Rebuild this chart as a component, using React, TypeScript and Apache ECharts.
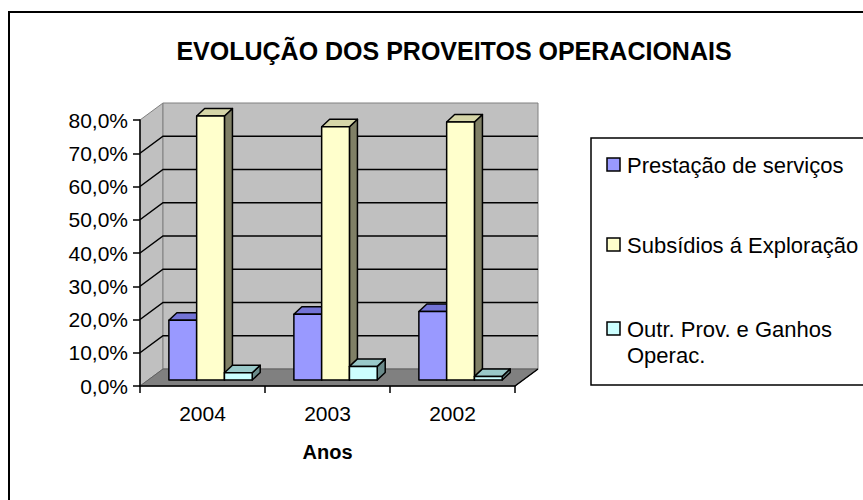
import React, { useEffect, useRef } from "react";
import * as echarts from "echarts";

const categories = ["2004", "2003", "2002"];
const seriesNames = ["Prestação de serviços", "Subsídios á Exploração", "Outr. Prov. e Ganhos Operac."];
const legendLabels = ["Prestação de serviços", "Subsídios á Exploração", "Outr. Prov. e Ganhos\nOperac."];
const prestacao = [18.0, 19.8, 20.6];
const subsidios = [79.4, 76.2, 77.6];
const outros = [2.2, 4.1, 1.1];
const yTicks = [0, 10, 20, 30, 40, 50, 60, 70, 80];

const FONT = "'Liberation Sans', Arial, Helvetica, sans-serif";
const DX = 23;
const DY = -17;
const BAR_FRONT = 0.35;
const BX = 8;
const BY = -7.5;

const palette = [
  { front: "#9999FF", top: "#7373D6", side: "#5C5CA8" },
  { front: "#FFFFCC", top: "#D6D6A8", side: "#808066" },
  { front: "#CCFFFF", top: "#99C9C9", side: "#6A8A8A" },
];

const strokeStyle = { stroke: "#000", lineWidth: 1.5, lineJoin: "round" };

function makeBarRender(s: number) {
  return (params: any, api: any) => {
    const i = api.value(0);
    const v = api.value(1);
    const base = api.coord([i, 0]);
    const top = api.coord([i, v]);
    const cw = api.size([1, 0])[0];
    const w = cw / 4.5;
    const ox = DX * BAR_FRONT;
    const oy = DY * BAR_FRONT;
    const xl = base[0] - 1.5 * w + s * w + ox;
    const xr = xl + w;
    const yb = base[1] + oy;
    const yt = top[1] + oy;
    const c = palette[s];
    return {
      type: "group",
      children: [
        {
          type: "polygon",
          shape: { points: [[xr, yt], [xr + BX, yt + BY], [xr + BX, yb + BY], [xr, yb]] },
          style: { fill: c.side, ...strokeStyle },
        },
        {
          type: "polygon",
          shape: { points: [[xl, yt], [xr, yt], [xr + BX, yt + BY], [xl + BX, yt + BY]] },
          style: { fill: c.top, ...strokeStyle },
        },
        {
          type: "rect",
          shape: { x: xl, y: yt, width: w, height: yb - yt },
          style: { fill: c.front, ...strokeStyle },
        },
      ],
    };
  };
}

function renderWalls(params: any, api: any) {
  const cs = params.coordSys;
  const x = cs.x;
  const y = cs.y;
  const w = cs.width;
  const h = cs.height;
  const children: any[] = [
    {
      type: "polygon",
      shape: { points: [[x, y], [x + DX, y + DY], [x + DX, y + h + DY], [x, y + h]] },
      style: { fill: "#C0C0C0", stroke: "#808080", lineWidth: 1 },
    },
    {
      type: "rect",
      shape: { x: x + DX, y: y + DY, width: w, height: h },
      style: { fill: "#C0C0C0", stroke: "#808080", lineWidth: 1 },
    },
    {
      type: "polygon",
      shape: { points: [[x, y + h], [x + w, y + h], [x + w + DX, y + h + DY], [x + DX, y + h + DY]] },
      style: { fill: "#808080", stroke: "#606060", lineWidth: 1 },
    },
    {
      type: "line",
      shape: { x1: x + w, y1: y + h, x2: x + w + DX, y2: y + h + DY },
      style: { stroke: "#000", lineWidth: 1.5 },
    },
  ];
  yTicks.forEach((t) => {
    if (t === yTicks[0] || t === yTicks[yTicks.length - 1]) return;
    const yy = api.coord([0, t])[1];
    children.push({
      type: "polyline",
      shape: { points: [[x, yy], [x + DX, yy + DY], [x + w + DX, yy + DY]] },
      style: { stroke: "#000", lineWidth: 1.5, fill: "none" },
    });
  });
  return { type: "group", children };
}

export default function App() {
  const ref = useRef<HTMLDivElement>(null);
  useEffect(() => {
    if (!ref.current) return;
    const chart = echarts.init(ref.current, null, { renderer: "svg" });
    const seriesData = [prestacao, subsidios, outros];
    const legendRows = [165, 245, 329];
    const legendGraphics: any[] = [];
    legendLabels.forEach((lbl, k) => {
      legendGraphics.push({
        type: "rect",
        shape: { x: 607, y: legendRows[k] - 7, width: 13, height: 13 },
        style: { fill: palette[k].front, stroke: "#000", lineWidth: 1.5 },
      });
      legendGraphics.push({
        type: "text",
        x: 627,
        y: legendRows[k] - 13,
        style: {
          text: lbl,
          font: `22px ${FONT}`,
          fill: "#000",
          lineHeight: 26,
          verticalAlign: "top",
          align: "left",
        },
      });
    });

    chart.setOption({
      animation: false,
      backgroundColor: "#fff",
      title: {
        text: "EVOLUÇÃO DOS PROVEITOS OPERACIONAIS",
        left: 449,
        top: 33,
        textAlign: "center",
        textStyle: { fontSize: 25, fontWeight: "bold", fontFamily: FONT, color: "#000" },
      },
      grid: { left: 140, right: 348, top: 120, bottom: 114 },
      xAxis: {
        type: "category",
        data: categories,
        boundaryGap: true,
        axisLine: { show: true, lineStyle: { color: "#000", width: 1.5 } },
        axisTick: { show: true, length: 7, lineStyle: { color: "#000", width: 1.5 } },
        axisLabel: { margin: 17, fontSize: 21, fontFamily: FONT, color: "#000" },
        name: "Anos",
        nameLocation: "middle",
        nameGap: 56,
        nameTextStyle: { fontSize: 20, fontWeight: "bold", fontFamily: FONT, color: "#000" },
        splitLine: { show: false },
      },
      yAxis: {
        type: "value",
        min: 0,
        max: 80,
        interval: 10,
        axisLine: { show: true, lineStyle: { color: "#000", width: 1.5 } },
        axisTick: { show: true, length: 7, lineStyle: { color: "#000", width: 1.5 } },
        axisLabel: {
          margin: 12,
          fontSize: 21,
          fontFamily: FONT,
          color: "#000",
          formatter: (v: number) => `${v.toFixed(1).replace(".", ",")}%`,
        },
        splitLine: { show: false },
      },
      legend: { show: false },
      series: [
        {
          type: "custom",
          name: "walls",
          z: -1,
          silent: true,
          renderItem: renderWalls,
          data: [[0, 0]],
        },
        ...seriesData.map((arr, s) => ({
          type: "custom",
          name: seriesNames[s],
          z: 2,
          renderItem: makeBarRender(s),
          encode: { x: 0, y: 1 },
          data: arr.map((v, i) => [i, v]),
        })),
      ],
      graphic: [
        {
          type: "rect",
          z: 100,
          shape: { x: 9, y: 12, width: 900, height: 540 },
          style: { fill: "none", stroke: "#000", lineWidth: 2 },
          silent: true,
        },
        {
          type: "rect",
          shape: { x: 591, y: 138, width: 300, height: 247 },
          style: { fill: "#fff", stroke: "#000", lineWidth: 1.5 },
        },
        ...legendGraphics,
      ],
    });
    return () => chart.dispose();
  }, []);
  return (
    <div
      ref={ref}
      style={{ position: "fixed", left: 0, top: 0, width: 863, height: 500, background: "#fff" }}
    />
  );
}
